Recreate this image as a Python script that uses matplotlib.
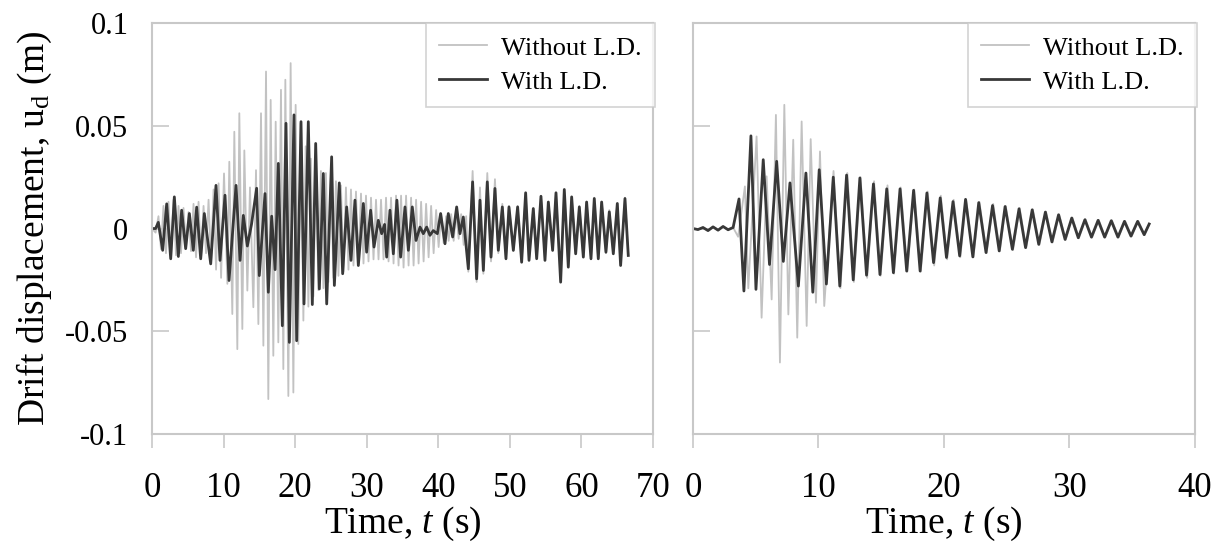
import matplotlib
matplotlib.use("Agg")
import matplotlib.pyplot as plt

plt.rcParams['font.family'] = ['Liberation Serif', 'DejaVu Serif']
plt.rcParams['mathtext.fontset'] = 'custom'
plt.rcParams['mathtext.rm'] = 'Liberation Serif'
plt.rcParams['mathtext.it'] = 'Liberation Serif:italic'
plt.rcParams['axes.unicode_minus'] = False

# ---- data: extrema (peaks / troughs) ----
# left panel, with L.D.
t_left_with = [0.0, 0.5, 0.88, 1.49, 2.05, 2.61, 3.12, 3.68, 4.14, 4.70, 5.22, 5.77, 6.24, 6.80,
               7.31, 8.2, 8.94, 9.50, 10.20, 10.76, 11.74, 12.30, 12.76, 13.32, 13.9, 14.62,
               14.99, 15.79, 16.25, 16.72, 17.2, 17.65, 18.21, 18.72, 19.19, 19.84, 20.21, 20.82,
               21.24, 21.84, 22.40, 22.87, 23.38, 23.94, 24.41, 25.10, 25.48, 26.17, 26.64, 27.2,
               27.8, 28.36, 28.83, 29.53, 29.99, 30.55, 31.02, 31.62, 32.09, 32.5, 32.79, 33.25,
               33.72, 34.22, 34.74, 35.35, 35.82, 36.37, 36.89, 37.45, 37.91, 38.38, 38.84, 39.3,
               39.87, 40.33, 40.94, 41.4, 42.01, 42.57, 43.03, 43.5, 44.2, 44.8, 45.36, 45.83,
               46.3, 46.85, 47.37, 47.92, 48.39, 48.95, 49.46, 49.88, 50.49, 51.09, 51.65, 52.21,
               52.68, 53.28, 53.75, 54.35, 54.91, 55.38, 55.98, 56.45, 57.1, 57.61, 58.17, 58.64,
               59.2, 59.71, 60.27, 60.73, 61.34, 61.8, 62.36, 62.83, 63.43, 63.9, 64.46, 65.02,
               65.48, 66.09, 66.55]
u_left_with = [0.0, 0.0, 0.003, -0.0106, 0.012, -0.0147, 0.0154, -0.0136, 0.0089, -0.0098, 0.0073,
               -0.0106, 0.0104, -0.0147, 0.0073, -0.0172, 0.021, -0.0155, 0.0162, -0.0253, 0.021,
               -0.0155, 0.0064, -0.0085, 0.002, 0.0196, -0.0229, 0.017, -0.031, 0.006, -0.02,
               0.0317, -0.0473, 0.0512, -0.0554, 0.0553, -0.0546, 0.052, -0.0367, 0.052, -0.037,
               0.0414, -0.0294, 0.0268, -0.0367, 0.0349, -0.0277, 0.0222, -0.022, 0.0105, -0.0155,
               0.0138, -0.018, 0.0122, -0.0115, 0.0089, -0.009, 0.004, -0.0025, 0.002, -0.0139,
               0.0089, -0.0123, 0.0138, -0.0139, 0.0105, -0.0106, 0.0105, -0.0058, 0.0007, -0.0025,
               0.0007, -0.0033, -0.001, -0.0025, 0.0073, -0.0074, 0.0073, -0.0041, 0.0105, -0.0025,
               0.0056, -0.0196, 0.0227, -0.0245, 0.0138, -0.0204, 0.0227, -0.0139, 0.0195, -0.0106,
               0.0105, -0.0147, 0.0105, -0.0106, 0.0105, -0.0164, 0.0174, -0.0155, 0.0097, -0.0147,
               0.0157, -0.0155, 0.0129, -0.0106, 0.0174, -0.0261, 0.019, -0.0188, 0.0154, -0.0123,
               0.0105, -0.0139, 0.0129, -0.0147, 0.0146, -0.0147, 0.0129, -0.0115, 0.0081, -0.0123,
               0.0122, -0.018, 0.0146, -0.0131]

# left panel, without L.D.
t_left_without = [0.0, 0.5, 0.9, 1.25, 1.6, 1.95, 2.3, 2.65, 3.0, 3.35, 3.7, 4.05, 4.4, 4.75, 5.1,
                  5.45, 5.8, 6.15, 6.5, 6.85, 7.2, 7.55, 7.9, 8.25, 8.6, 8.95, 9.3, 9.65, 10.06,
                  10.53, 10.8, 11.22, 11.5, 11.92, 12.2, 12.62, 12.9, 13.32, 13.69, 14.16, 14.53,
                  14.86, 15.23, 15.56, 15.93, 16.25, 16.58, 16.95, 17.28, 17.65, 18.02, 18.35,
                  18.63, 19.05, 19.37, 19.75, 20.07, 20.44, 20.77, 21.15, 21.47, 21.85, 22.2,
                  22.55, 22.9, 23.25, 23.6, 23.95, 24.3, 24.65, 25.0, 25.35, 25.7, 26.05, 26.4,
                  26.75, 27.1, 27.45, 27.8, 28.15, 28.5, 28.85, 29.2, 29.55, 29.9, 30.25, 30.6,
                  30.95, 31.3, 31.65, 32.0, 32.35, 32.7, 33.05, 33.4, 33.75, 34.1, 34.45, 34.8,
                  35.15, 35.5, 35.85, 36.2, 36.55, 36.9, 37.25, 37.6, 37.95, 38.3, 38.65, 39.0,
                  39.35, 39.7, 40.05, 40.4, 40.75, 41.1, 41.45, 41.8, 42.15, 42.5, 42.85, 43.2,
                  43.55, 43.9, 44.2, 44.8, 45.36, 45.83, 46.3, 46.85, 47.37, 47.92, 48.39, 48.95,
                  49.46, 49.88, 50.49, 51.09, 51.65, 52.21, 52.68, 53.28, 53.75, 54.35, 54.91,
                  55.38, 55.98, 56.45, 57.1, 57.61, 58.17, 58.64, 59.2, 59.71, 60.27, 60.73, 61.34,
                  61.8, 62.36, 62.83, 63.43, 63.9, 64.46, 65.02, 65.48, 66.09, 66.55]
u_left_without = [0.0, -0.002, 0.006, -0.010, 0.011, -0.012, 0.013, -0.015, 0.014, -0.013, 0.011,
                  -0.012, 0.010, -0.009, 0.008, -0.011, 0.012, -0.014, 0.013, -0.015, 0.011,
                  -0.012, 0.014, -0.017, 0.019, -0.020, 0.022, -0.024, 0.0268, -0.0269, 0.0325,
                  -0.0416, 0.0471, -0.0587, 0.0561, -0.0489, 0.038, -0.0302, 0.020, -0.0383,
                  0.0284, -0.0465, 0.0561, -0.057, 0.0764, -0.083, 0.0626, -0.0619, 0.052,
                  -0.0554, 0.0675, -0.0684, 0.0724, -0.0815, 0.0805, -0.0798, 0.0602, -0.0562,
                  0.0512, -0.0448, 0.040, -0.038, 0.034, -0.033, 0.031, -0.030, 0.028, -0.029,
                  0.027, -0.026, 0.025, -0.024, 0.023, -0.023, 0.021, -0.021, 0.020, -0.020, 0.019,
                  -0.018, 0.018, -0.017, 0.017, -0.017, 0.016, -0.016, 0.015, -0.015, 0.014,
                  -0.015, 0.014, -0.015, 0.015, -0.016, 0.015, -0.017, 0.016, -0.018, 0.016,
                  -0.019, 0.016, -0.018, 0.015, -0.018, 0.014, -0.017, 0.013, -0.016, 0.012,
                  -0.014, 0.011, -0.012, 0.009, -0.009, 0.007, -0.007, 0.006, -0.006, 0.007,
                  -0.006, 0.008, -0.005, 0.007, -0.008, 0.006, -0.021, 0.028, -0.026, 0.020,
                  -0.022, 0.027, -0.016, 0.024, -0.012, 0.012, -0.015, 0.011, -0.011, 0.011,
                  -0.016, 0.017, -0.015, 0.010, -0.014, 0.015, -0.015, 0.013, -0.011, 0.017,
                  -0.025, 0.018, -0.018, 0.015, -0.012, 0.011, -0.014, 0.013, -0.015, 0.015,
                  -0.015, 0.013, -0.012, 0.009, -0.012, 0.012, -0.017, 0.015, -0.013]

# right panel, with L.D.
t_right_with = [0.0, 0.4, 0.8, 1.2, 1.6, 2.0, 2.4, 2.8, 3.2, 3.67, 4.06, 4.62, 5.02, 5.6, 6.1,
                6.67, 7.2, 7.73, 8.4, 9.0, 9.55, 10.06, 10.63, 11.18, 11.7, 12.24, 12.77, 13.3,
                13.83, 14.38, 14.9, 15.44, 15.97, 16.5, 17.03, 17.58, 18.1, 18.64, 19.17, 19.7,
                20.2, 20.72, 21.25, 21.72, 22.3, 22.77, 23.35, 23.87, 24.4, 24.87, 25.45, 25.98,
                26.5, 27.03, 27.55, 28.08, 28.6, 29.13, 29.65, 30.18, 30.7, 31.23, 31.75, 32.28,
                32.8, 33.33, 33.86, 34.38, 34.9, 35.43, 35.95, 36.35]
u_right_with = [0.0, -0.0005, 0.0005, -0.001, 0.0008, -0.0008, 0.001, -0.0006, 0.0005, 0.0144,
                -0.0304, 0.0451, -0.0296, 0.0335, -0.0175, 0.0327, -0.016, 0.0222, -0.028, 0.027,
                -0.031, 0.0286, -0.027, 0.025, -0.028, 0.026, -0.025, 0.0246, -0.0227, 0.0217,
                -0.0224, 0.0193, -0.0215, 0.0193, -0.0207, 0.0186, -0.0207, 0.0173, -0.0166,
                0.0149, -0.0141, 0.0131, -0.0133, 0.0142, -0.0138, 0.0126, -0.0117, 0.0112,
                -0.0109, 0.0107, -0.0101, 0.0096, -0.0093, 0.0091, -0.0077, 0.008, -0.0065,
                0.0067, -0.0053, 0.0051, -0.0045, 0.0043, -0.0042, 0.004, -0.0042, 0.0038,
                -0.0042, 0.0035, -0.0037, 0.0035, -0.003, 0.0022]

# right panel, without L.D.
t_right_without = [0.0, 0.4, 0.8, 1.2, 1.6, 2.0, 2.4, 2.8, 3.2, 3.6, 4.14, 4.41, 5.07, 5.47,
                   5.87, 6.27, 6.61, 6.93, 7.28, 7.6, 7.99, 8.31, 8.66, 9.06, 9.38, 9.8, 10.12,
                   10.46, 11.2, 11.75, 12.3, 12.82, 13.35, 13.88, 14.43, 14.95, 15.5, 16.02, 16.55,
                   17.08, 17.63, 18.15, 18.7, 19.22, 19.75, 20.25, 20.77, 21.3, 21.77, 22.35,
                   22.82, 23.4, 23.92, 24.45, 24.92, 25.5, 26.03, 26.55, 27.08, 27.6, 28.13, 28.65,
                   29.18, 29.7, 30.23, 30.75, 31.28, 31.8, 32.33, 32.85, 33.38, 33.91, 34.43,
                   34.95, 35.48, 35.98, 36.35]
u_right_without = [0.0, -0.0005, 0.0005, -0.001, 0.0008, -0.0008, 0.001, -0.0006, 0.0005, -0.004,
                   0.0205, -0.0291, 0.0448, -0.0434, 0.0254, -0.0345, 0.0553, -0.0652, 0.0602,
                   -0.0418, 0.0432, -0.0531, 0.0521, -0.0474, 0.0435, -0.0361, 0.0375, -0.0377,
                   0.028, -0.029, 0.027, -0.026, 0.025, -0.024, 0.023, -0.023, 0.021, -0.022,
                   0.020, -0.021, 0.019, -0.021, 0.018, -0.018, 0.016, -0.015, 0.014, -0.014,
                   0.014, -0.014, 0.013, -0.012, 0.012, -0.011, 0.011, -0.0105, 0.010, -0.0095,
                   0.0093, -0.008, 0.0082, -0.0068, 0.0068, -0.0055, 0.0053, -0.0047, 0.0045,
                   -0.0044, 0.0042, -0.0043, 0.004, -0.0043, 0.0037, -0.0038, 0.0036, -0.0032,
                   0.002]

y_ticks = [-0.1, -0.05, 0, 0.05, 0.1]
y_ticklabels = ['-0.1', '-0.05', '0', '0.05', '0.1']

light = '#c2c2c2'
dark = '#383838'
frame = '#c8c8c8'

fig = plt.figure(figsize=(12.23, 5.46), dpi=100)
ax1 = fig.add_axes([0.1243, 0.2051, 0.4096, 0.7527])
ax2 = fig.add_axes([0.5666, 0.2051, 0.4105, 0.7527])

panels = [(ax1, t_left_without, u_left_without, t_left_with, u_left_with, 70),
          (ax2, t_right_without, u_right_without, t_right_with, u_right_with, 40)]

for ax, tw, uw, td, ud, xmax in panels:
    ax.plot(tw, uw, color=light, lw=1.3, label='Without L.D.')
    ax.plot(td, ud, color=dark, lw=2.0, label='With L.D.')
    ax.set_xlim(0, xmax)
    ax.set_ylim(-0.1, 0.1)
    ax.set_xticks(range(0, xmax + 1, 10))
    ax.set_yticks(y_ticks)
    for s in ax.spines.values():
        s.set_color(frame)
        s.set_linewidth(1.5)
    ax.tick_params(axis='x', direction='out', length=10, width=1.2, color=frame,
                   labelsize=25, pad=17)
    ax.tick_params(axis='y', direction='in', length=12, width=1.2, color=frame,
                   labelsize=22, pad=17)
    ax.set_xlabel('Time, $t$ (s)', fontsize=27, labelpad=0)
    leg = ax.legend(loc='upper right', bbox_to_anchor=(1.004, 1.0), borderaxespad=0,
                    fontsize=19, frameon=True, fancybox=False, handlelength=1.8,
                    handletextpad=0.55, labelspacing=0.4, borderpad=0.5)
    leg.get_frame().set_edgecolor(frame)
    leg.get_frame().set_linewidth(1.2)

ax1.set_yticklabels(y_ticklabels)
ax2.set_yticklabels([])
ax1.set_ylabel('Drift displacement, u$_{\\rm d}$ (m)', fontsize=27, labelpad=8)

plt.savefig('out.png', dpi=100)
